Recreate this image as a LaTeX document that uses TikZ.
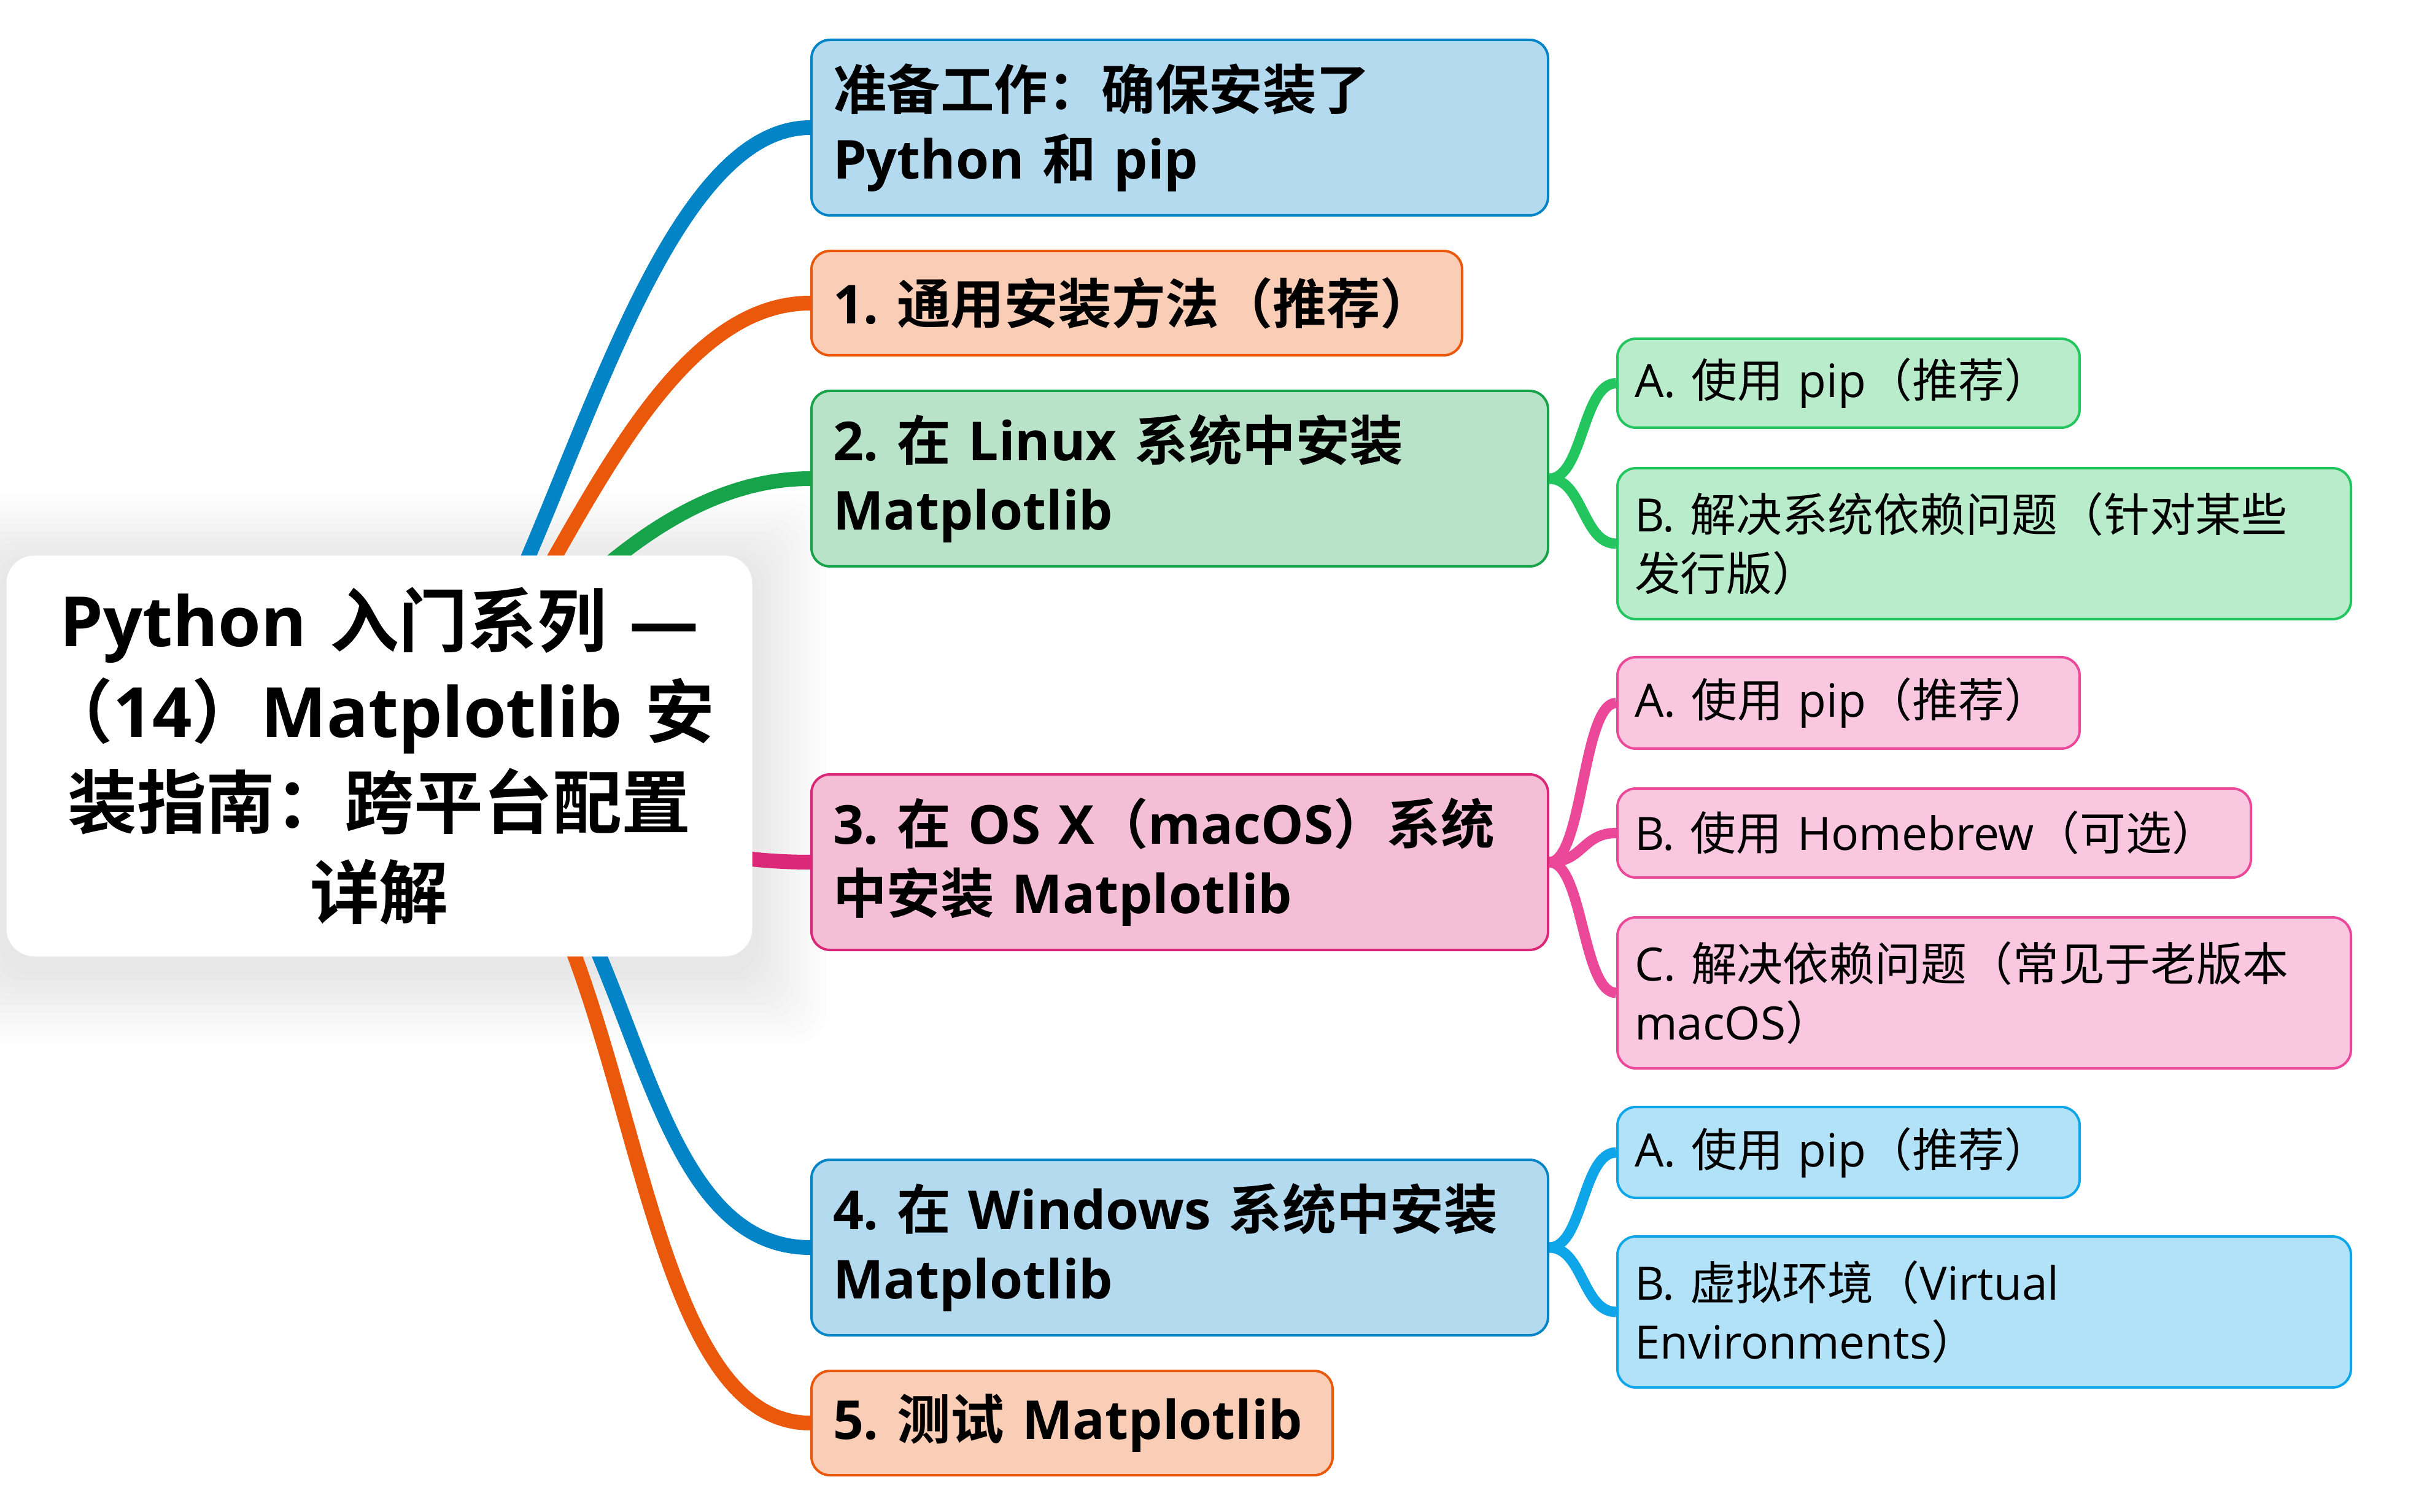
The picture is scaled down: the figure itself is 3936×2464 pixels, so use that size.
\documentclass[tikz,border=0pt]{standalone}
\usepackage{fontspec}
\setmainfont{Open Sans}
\newfontfamily\cjkf{Noto Sans CJK SC}[BoldFont={Noto Sans CJK SC Bold}]
\newfontfamily\latf{Open Sans}
\makeatletter
\count@="3000 \loop\ifnum\count@<"3040 \XeTeXcharclass\count@=7 \advance\count@\@ne\repeat
\count@="4E00 \loop\ifnum\count@<"A000 \XeTeXcharclass\count@=7 \advance\count@\@ne\repeat
\count@="FF00 \loop\ifnum\count@<"FFF0 \XeTeXcharclass\count@=7 \advance\count@\@ne\repeat
\makeatother
\XeTeXinterchartokenstate=1
\XeTeXinterchartoks 0 7 = {\cjkf}
\XeTeXinterchartoks 4095 7 = {\cjkf}
\XeTeXinterchartoks 7 0 = {\latf}
\XeTeXinterchartoks 4095 0 = {\latf}
\frenchspacing
\definecolor{sky6}{HTML}{0284C7}
\definecolor{ora6}{HTML}{EA580C}
\definecolor{grn6}{HTML}{16A34A}
\definecolor{pnk6}{HTML}{DB2777}
\definecolor{grn5}{HTML}{22C55E}
\definecolor{pnk5}{HTML}{EC4899}
\definecolor{sky5}{HTML}{0EA5E9}
\pgfdeclarelayer{shadowlayer}
\pgfdeclarelayer{bglayer}
\pgfsetlayers{shadowlayer,bglayer,main}
\tikzset{
  rootbox/.style={fill=white, rounded corners=4.5mm, minimum width=121.5mm, minimum height=65.3mm,
    text width=115mm, align=center, inner sep=0pt,
    font=\bfseries\fontsize{32.1pt}{42.1pt}\selectfont},
  lone/.style={anchor=north west, line width=0.4mm, rounded corners=3mm, inner xsep=3.5mm,
    inner ysep=0pt, align=left, font=\bfseries\fontsize{24.9pt}{32.2pt}\selectfont},
  ltwo/.style={anchor=north west, line width=0.4mm, rounded corners=3mm, inner xsep=2.8mm,
    inner ysep=0pt, align=left, font=\fontsize{21.3pt}{27.3pt}\selectfont},
  mainconn/.style={line width=2.4mm},
  subconn/.style={line width=1.7mm},
}
\begin{document}
\begin{tikzpicture}[x=0.1mm,y=-0.1mm]
\useasboundingbox (0,0) rectangle (3936,2464);

% root
\node[rootbox] (root) at (618,1232) {\mbox{Python 入门系列 —}\\\mbox{（14）Matplotlib 安}\\\mbox{装指南：跨平台配置}\\\mbox{详解}};

% level 1
\node[lone, draw=sky6, fill=sky6!30, minimum width=120mm, minimum height=28.6mm, text width=113mm] (n0) at (1320,63) {\mbox{准备工作：确保安装了}\\\mbox{Python 和 pip}};
\node[lone, draw=ora6, fill=ora6!30, minimum width=106mm, minimum height=17mm, text width=99mm] (n1) at (1320,407) {\mbox{1. 通用安装方法（推荐）}};
\node[lone, draw=grn6, fill=grn6!30, minimum width=120mm, minimum height=28.6mm, text width=113mm] (n2) at (1320,635) {\mbox{2. 在 Linux 系统中安装}\\\mbox{Matplotlib}};
\node[lone, draw=pnk6, fill=pnk6!30, minimum width=120mm, minimum height=28.6mm, text width=113mm] (n3) at (1320,1260) {\mbox{3. 在 OS X（macOS）系统}\\\mbox{中安装 Matplotlib}};
\node[lone, draw=sky6, fill=sky6!30, minimum width=120mm, minimum height=28.6mm, text width=113mm] (n4) at (1320,1888) {\mbox{4. 在 Windows 系统中安装}\\\mbox{Matplotlib}};
\node[lone, draw=ora6, fill=ora6!30, minimum width=84.9mm, minimum height=17mm, text width=77.9mm] (n5) at (1320,2232) {\mbox{5. 测试 Matplotlib}};

% level 2
\node[ltwo, draw=grn5, fill=grn5!32, minimum width=75.3mm, minimum height=14.5mm, text width=69.7mm] (la) at (2633,550) {\mbox{A. 使用 pip（推荐）}};
\node[ltwo, draw=grn5, fill=grn5!32, minimum width=119.5mm, minimum height=24.6mm, text width=113.9mm] (lb) at (2633,761) {\mbox{B. 解决系统依赖问题（针对某些}\\\mbox{发行版）}};
\node[ltwo, draw=pnk5, fill=pnk5!30, minimum width=75.3mm, minimum height=14.9mm, text width=69.7mm] (oa) at (2633,1069) {\mbox{A. 使用 pip（推荐）}};
\node[ltwo, draw=pnk5, fill=pnk5!30, minimum width=103.2mm, minimum height=14.5mm, text width=97.6mm] (ob) at (2633,1283) {\mbox{B. 使用 Homebrew（可选）}};
\node[ltwo, draw=pnk5, fill=pnk5!30, minimum width=119.5mm, minimum height=24.6mm, text width=113.9mm] (oc) at (2633,1493) {\mbox{C. 解决依赖问题（常见于老版本}\\\mbox{macOS）}};
\node[ltwo, draw=sky5, fill=sky5!32, minimum width=75.3mm, minimum height=14.8mm, text width=69.7mm] (wa) at (2633,1802) {\mbox{A. 使用 pip（推荐）}};
\node[ltwo, draw=sky5, fill=sky5!32, minimum width=119.5mm, minimum height=24.6mm, text width=113.9mm] (wb) at (2633,2013) {\mbox{B. 虚拟环境（Virtual}\\\mbox{Environments）}};

% white page and soft shadow of root
\begin{pgfonlayer}{shadowlayer}
\fill[white] (0,0) rectangle (3936,2464);
\foreach \e in {10,20,...,120}{
  \fill[black, opacity=0.007, rounded corners=5mm]
    ([shift={(-\e,-\e+20)}]root.north west) rectangle ([shift={(\e,\e+20)}]root.south east);
}
\end{pgfonlayer}

% connectors
\begin{pgfonlayer}{bglayer}
\draw[mainconn, sky6] (root.center) .. controls +(240,0) and +(-323,0) .. (n0.west);
\draw[mainconn, ora6] (root.center) .. controls +(225,0) and +(-331,0) .. (n1.west);
\draw[mainconn, grn6] (root.center) .. controls +(144,0) and +(-340,0) .. (n2.west);
\draw[mainconn, pnk6] (root.center) .. controls +(300,0) and +(-340,0) .. (n3.west);
\draw[mainconn, sky6] (root.center) .. controls +(442,0) and +(-342,0) .. (n4.west);
\draw[mainconn, ora6] (root.center) .. controls +(441,0) and +(-345,0) .. (n5.west);

\draw[subconn, grn5] (n2.east) .. controls +(55,0) and +(-55,0) .. (la.west);
\draw[subconn, grn5] (n2.east) .. controls +(55,0) and +(-55,0) .. (lb.west);
\draw[subconn, pnk5] (n3.east) .. controls +(55,0) and +(-55,0) .. (oa.west);
\draw[subconn, pnk5] (n3.east) .. controls +(55,0) and +(-55,0) .. (ob.west);
\draw[subconn, pnk5] (n3.east) .. controls +(55,0) and +(-55,0) .. (oc.west);
\draw[subconn, sky5] (n4.east) .. controls +(55,0) and +(-55,0) .. (wa.west);
\draw[subconn, sky5] (n4.east) .. controls +(55,0) and +(-55,0) .. (wb.west);
\end{pgfonlayer}
\end{tikzpicture}
\end{document}
